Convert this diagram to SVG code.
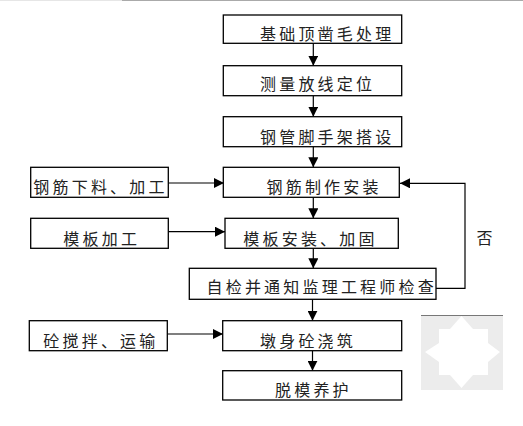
<svg xmlns="http://www.w3.org/2000/svg" width="523" height="426" viewBox="0 0 523 426">
<style>
.box{fill:#fff;stroke:#000;stroke-width:1.3}
.t{font-family:"Noto Sans CJK SC","Noto Sans CJK JP",sans-serif;font-size:16px;letter-spacing:3.2px;fill:#222}
.c{fill:none;stroke:#000;stroke-width:1.2}
</style>
<defs>
<marker id="ah" viewBox="0 0 10 10" refX="10" refY="5" markerWidth="10" markerHeight="10" markerUnits="userSpaceOnUse" orient="auto">
<path d="M0,0 L10,5 L0,10 z" fill="#000"/>
</marker>
</defs>
<rect width="523" height="426" fill="#fff"/>
<line x1="0" y1="0.5" x2="122" y2="0.5" stroke="#e6e6e6" stroke-width="1"/>
<line x1="122" y1="0.5" x2="523" y2="0.5" stroke="#aaa" stroke-width="1.2"/>
<g id="watermark">
<rect x="421" y="315" width="82" height="75" fill="#ececec"/>
<line x1="421" y1="315.5" x2="503" y2="315.5" stroke="#777" stroke-width="1"/>
<polygon points="461.5,316 473,329 488,329 488,343 500,352 488,362 488,375 473,375 461.5,388 450,375 439,375 439,362 425,352 439,343 439,329 450,329" fill="#fff"/>
</g>
<g id="connectors">
<line class="c" x1="313.3" y1="43.3" x2="313.3" y2="65.7" marker-end="url(#ah)"/>
<line class="c" x1="313.3" y1="95.7" x2="313.3" y2="116.7" marker-end="url(#ah)"/>
<line class="c" x1="313.3" y1="146.7" x2="313.3" y2="167.3" marker-end="url(#ah)"/>
<line class="c" x1="313.3" y1="197.3" x2="313.3" y2="218.3" marker-end="url(#ah)"/>
<line class="c" x1="313.3" y1="248.3" x2="313.3" y2="268.3" marker-end="url(#ah)"/>
<line class="c" x1="312.5" y1="299.3" x2="312.5" y2="320.7" marker-end="url(#ah)"/>
<line class="c" x1="312.5" y1="350.7" x2="312.5" y2="370.7" marker-end="url(#ah)"/>
<line class="c" x1="168.3" y1="183" x2="224" y2="183" marker-end="url(#ah)"/>
<line class="c" x1="168.3" y1="231.7" x2="225" y2="231.7" marker-end="url(#ah)"/>
<line class="c" x1="167.3" y1="334" x2="223" y2="334" marker-end="url(#ah)"/>
<polyline class="c" points="436,288.3 465,288.3 465,183.3 400,183.3" marker-end="url(#ah)"/>
</g>
<g id="n1"><rect class="box" x="223.3" y="15" width="178.4" height="28.3"/><text class="t" x="260" y="40">基础顶凿毛处理</text></g>
<g id="n2"><rect class="box" x="223.3" y="65.7" width="178.4" height="30"/><text class="t" x="260" y="90">测量放线定位</text></g>
<g id="n3"><rect class="box" x="223.3" y="116.7" width="178.4" height="30"/><text class="t" x="260" y="143">钢管脚手架搭设</text></g>
<g id="n4"><rect class="box" x="223.3" y="167.3" width="176" height="30"/><text class="t" x="266.5" y="193">钢筋制作安装</text></g>
<g id="l1"><rect class="box" x="30.7" y="167.3" width="137.6" height="30"/><text class="t" x="33.3" y="193">钢筋下料、加工</text></g>
<g id="n5"><rect class="box" x="225" y="218.3" width="173.3" height="30"/><text class="t" x="243.3" y="245">模板安装、加固</text></g>
<g id="l2"><rect class="box" x="30.7" y="218.3" width="137.6" height="30"/><text class="t" x="63.3" y="245">模板加工</text></g>
<g id="n6"><rect class="box" x="189.3" y="268.3" width="246.7" height="31"/><text class="t" x="206.5" y="293">自检并通知监理工程师检查</text></g>
<g id="no"><text class="t" x="476.5" y="244">否</text></g>
<g id="n7"><rect class="box" x="222.7" y="320.7" width="179" height="30"/><text class="t" x="260" y="347">墩身砼浇筑</text></g>
<g id="l3"><rect class="box" x="29.3" y="320.7" width="138" height="30"/><text class="t" x="43.3" y="347">砼搅拌、运输</text></g>
<g id="n8"><rect class="box" x="222.7" y="370.7" width="179" height="29.3"/><text class="t" x="275" y="396">脱模养护</text></g>
</svg>
